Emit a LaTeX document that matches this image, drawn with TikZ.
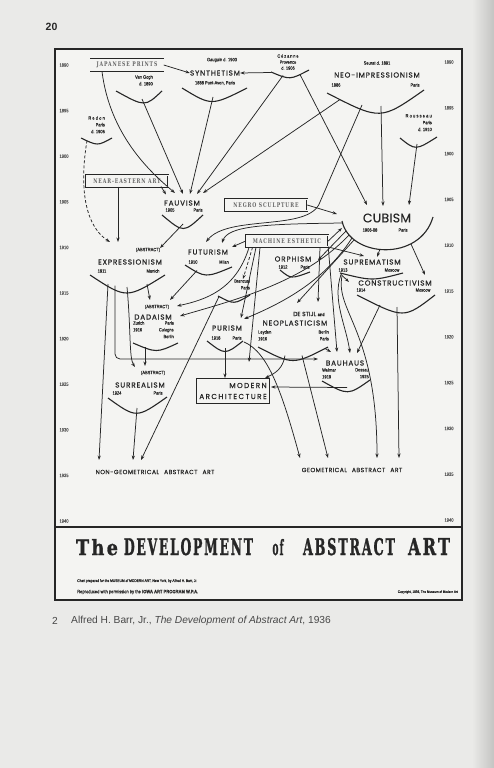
\documentclass[tikz,border=0pt]{standalone}
\usepackage{fontspec}
\usepackage{graphicx}
\usetikzlibrary{arrows.meta}

\definecolor{ink}{RGB}{38,38,38}
\definecolor{paper}{RGB}{234,234,232}
\definecolor{chartpaper}{RGB}{244,244,242}
\definecolor{pageshade}{RGB}{196,196,194}

\newfontfamily\movfont[LetterSpace=12,FakeBold=0.6]{Poppins}
\newfontfamily\smallfont[FakeStretch=0.85,FakeBold=0.2]{Liberation Sans}
\newfontfamily\boxfont[FakeStretch=0.72,LetterSpace=14]{DejaVu Serif}
\newfontfamily\titlefont[LetterSpace=14,FakeBold=1.5]{DejaVu Serif}
\newfontfamily\capfont{Liberation Sans}

\begin{document}
\begin{tikzpicture}[x=1pt,y=-1pt]

%
% Styles
%
\tikzstyle{movement} = [inner sep=0pt,text=ink,font=\movfont\fontsize{7.2}{8}\selectfont]
\tikzstyle{note}     = [inner sep=0pt,text=ink,font=\smallfont\fontsize{4.7}{6.8}\selectfont]
\tikzstyle{year}     = [inner sep=0pt,text=ink!75,font=\smallfont\fontsize{4.8}{5}\selectfont]
\tikzstyle{source}   = [draw=ink,line width=0.45pt,double=chartpaper,double distance=0.8pt,inner sep=0pt,minimum height=11.5pt,text=ink!70,font=\boxfont\bfseries\fontsize{6.4}{7}\selectfont]
\tikzstyle{archbox}  = [draw=ink,line width=1.5pt,minimum width=73pt,minimum height=25pt,inner sep=0pt,align=right,text=ink,font=\movfont\fontsize{7.2}{11}\selectfont\addfontfeature{LetterSpace=20}]
\tikzstyle{goal}     = [inner sep=0pt,text=ink,font=\movfont\fontsize{6}{7}\selectfont\addfontfeature{LetterSpace=8}]
\tikzstyle{titleword} = [inner sep=0pt,anchor=base,text=ink]
\tikzstyle{bowl}     = [line width=1.1pt,draw=ink]
\tikzstyle{edge}     = [->,>={Stealth[length=4.5pt,width=3.2pt]},line width=0.75pt,draw=ink]
\tikzstyle{edge0}    = [edge,dash pattern=on 3pt off 2pt]

% page and frame
\useasboundingbox (0,0) rectangle (494,768);
\fill[paper] (0,0) rectangle (494,768);
\shade[left color=paper,right color=pageshade] (472,0) rectangle (494,768);
\fill[chartpaper] (55,49) rectangle (462,600);
\draw[ink,line width=2pt] (55,49) rectangle (462,600);
\draw[ink,line width=1.6pt] (55,527) -- (462,527);

% years
\foreach \i in {0,...,10}{
  \pgfmathtruncatemacro\yr{1890+5*\i}
  \node[year] (yl\i) at (64,{65+45.6*\i}) {\yr};
  \node[year] (yr\i) at (449,{62+45.8*\i}) {\yr};
}

% sources
\node[source,minimum width=73pt] (jap)   at (127,65)  {JAPANESE PRINTS};
\node[source,minimum width=82pt] (near)  at (127,181) {NEAR-EASTERN ART};
\node[source,minimum width=82pt] (negro) at (266,205) {NEGRO SCULPTURE};
\node[source,minimum width=82pt] (mach)  at (287,241) {MACHINE ESTHETIC};
\node[archbox] (arch) at (233,391) {MODERN\\ARCHITECTURE};

% movements
\node[movement] (synth)  at (215,73)  {SYNTHETISM};
\node[movement] (neo)    at (377,75)  {NEO-IMPRESSIONISM};
\node[movement] (fauv)   at (182,203) {FAUVISM};
\node[movement,font=\movfont\fontsize{12.5}{13}\selectfont\addfontfeature{LetterSpace=2,FakeBold=0.3}] (cub) at (387,218) {CUBISM};
\node[note]     (exprA)  at (148,250) {(ABSTRACT)};
\node[movement] (expr)   at (130,262) {EXPRESSIONISM};
\node[movement] (fut)    at (208,252) {FUTURISM};
\node[movement] (orph)   at (293,259) {ORPHISM};
\node[movement] (supr)   at (372,262) {SUPREMATISM};
\node[movement] (cons)   at (395,283) {CONSTRUCTIVISM};
\node[note]     (dadaA)  at (157,307) {(ABSTRACT)};
\node[movement] (dada)   at (153,317) {DADAISM};
\node[movement] (pur)    at (227,328) {PURISM};
\node[movement,font=\movfont\fontsize{6}{7}\selectfont\addfontfeature{LetterSpace=0}] (stijlA) at (309,314) {DE STIJL {\smallfont\bfseries\fontsize{4.6}{5}\selectfont and}};
\node[movement] (stijl)  at (295,323) {NEOPLASTICISM};
\node[movement] (bau)    at (345,363) {BAUHAUS};
\node[note]     (surrA)  at (153,373) {(ABSTRACT)};
\node[movement] (surr)   at (140,385) {SURREALISM};
\node[goal] (nongeo) at (155,472) {NON-GEOMETRICAL\hspace{5pt}ABSTRACT\hspace{5pt}ART};
\node[goal] (geo)    at (352,470) {GEOMETRICAL\hspace{5pt}ABSTRACT\hspace{5pt}ART};

% persons, dates and places
\node[note] (gaug)   at (222,60)  {Gauguin d. 1903};
\node[note] (synthD) at (215,83)  {1888 Pont-Aven, Paris};
\node[note,align=right,anchor=north east] (vang) at (153,75) {Van Gogh\\d. 1890};
\node[note,align=center,font=\smallfont\fontsize{4.6}{6}\selectfont] (cez) at (288,62) {{\addfontfeature{LetterSpace=20}Cézanne}\\Provence\\d. 1906};
\node[note] (seur)   at (377,63)  {Seurat d. 1891};
\node[note] (neoD)   at (336,85)  {1886};
\node[note] (neoP)   at (415,85)  {Paris};
\node[note,align=right,anchor=north east] (redon) at (105,116) {{\addfontfeature{LetterSpace=25}Redon}\\Paris\\d. 1906};
\node[note,align=right,anchor=north east] (rous)  at (432,114) {{\addfontfeature{LetterSpace=25}Rousseau}\\Paris\\d. 1910};
\node[note] (fauvD)  at (170,210) {1905};
\node[note] (fauvP)  at (198,210) {Paris};
\node[note] (cubD)   at (370,230) {1906-08};
\node[note] (cubP)   at (403,230) {Paris};
\node[note] (exprD)  at (102,271) {1911};
\node[note] (exprP)  at (153,271) {Munich};
\node[note] (futD)   at (193,262) {1910};
\node[note] (futP)   at (224,262) {Milan};
\node[note] (orphD)  at (283,267) {1912};
\node[note] (orphP)  at (305,267) {Paris};
\node[note] (suprD)  at (343,270) {1913};
\node[note] (suprP)  at (392,270) {Moscow};
\node[note] (consD)  at (361,290) {1914};
\node[note] (consP)  at (423,290) {Moscow};
\node[note,align=right,anchor=north east] (branc) at (250,279) {Brancusi\\Paris};
\node[note,align=left,anchor=north west]  (dadaD) at (133,321) {Zurich\\1916};
\node[note,align=right,anchor=north east] (dadaP) at (174,321) {Paris\\Cologne\\Berlin};
\node[note] (purD)   at (216,338) {1918};
\node[note] (purP)   at (237,338) {Paris};
\node[note,align=left,anchor=north west]  (stijlD) at (258,330) {Leyden\\1916};
\node[note,align=right,anchor=north east] (stijlP) at (329,330) {Berlin\\Paris};
\node[note,align=left,anchor=north west]  (bauD)  at (322,368) {Weimar\\1919};
\node[note,align=right,anchor=north east] (bauP)  at (369,368) {Dessau\\1925};
\node[note] (surrD)  at (117,393) {1924};
\node[note] (surrP)  at (158,393) {Paris};

% bowls under the movements
\draw[bowl] (116,91)  .. controls (145,107)   .. (162,91);
\draw[bowl] (182,88)  .. controls (211.5,106) .. (247,88);
\draw[bowl] (271,72)  .. controls (290,80)    .. (309,70);
\draw[bowl] (327,93)  .. controls (380.5,120.5) .. (424,90);
\draw[bowl] (81,138)  .. controls (97.5,146)  .. (112,138);
\draw[bowl] (400,138) .. controls (415.5,150.5) .. (437,137);
\draw[bowl] (162,215) .. controls (183.5,233) .. (203,215);
\draw[bowl] (342,221) .. controls (350,258) and (420,262) .. (433,217);
\draw[bowl] (90,275)  .. controls (126.5,299) .. (165,275);
\draw[bowl] (185,265) .. controls (205.5,278) .. (232,267);
\draw[bowl] (280,270) .. controls (291,279)   .. (310,272);
\draw[bowl] (340,273) .. controls (372.5,281) .. (403,273);
\draw[bowl] (357,295) .. controls (404,319)   .. (435,295);
\draw[bowl] (218,296) .. controls (234,304.5) .. (250,295);
\draw[bowl] (133,343) .. controls (156.5,353) .. (178,343);
\draw[bowl] (207,341) .. controls (225,355)   .. (243,341);
\draw[bowl] (258,347) .. controls (293,365)   .. (328,347);
\draw[bowl] (322,381) .. controls (348,395.5) .. (370,380);
\draw[bowl] (108,398) .. controls (136.5,418.5) .. (167,397);

% where the arrows leave
\coordinate (japS)   at (102,71.5);
\coordinate (vanB)   at (142,99);
\coordinate (synthB) at (213,97);
\coordinate (cezL)   at (271,72.5);
\coordinate (cezB1)  at (283,75.5);
\coordinate (cezB2)  at (300,74.5);
\coordinate (neoB1)  at (340,99.5);
\coordinate (neoB2)  at (362,105);
\coordinate (neoK)   at (320,202);
\coordinate (neoB3)  at (381,106);
\coordinate (rousB)  at (417,144);
\coordinate (redonB) at (87,140.5);
\coordinate (nearS)  at (118,186.5);
\coordinate (nearSE) at (161,186.5);
\coordinate (fauvB)  at (183,224);
\coordinate (cubL)   at (343,223);
\coordinate (cubF1)  at (346,231);
\coordinate (cubF2)  at (349,235);
\coordinate (cubF3)  at (352,238);
\coordinate (cubF4)  at (354,240);
\coordinate (cubB)   at (380,249);
\coordinate (cubR)   at (411,244);
\coordinate (machS1) at (249,247.5);
\coordinate (machS2) at (252.5,247.5);
\coordinate (machS3) at (256,247.5);
\coordinate (machS4) at (260,247.5);
\coordinate (machS5) at (320,247.5);
\coordinate (exprB1) at (108,284);
\coordinate (exprB2) at (115,285.5);
\coordinate (exprB3) at (127,287);
\coordinate (exprB4) at (147,284);
\coordinate (futB)   at (197,270.5);
\coordinate (brancL) at (219,296.5);
\coordinate (dadaB)  at (145,347);
\coordinate (surrB)  at (137,408);
\coordinate (purB)   at (225,348);
\coordinate (purR)   at (244,342);
\coordinate (stijlB1) at (285,355.5);
\coordinate (stijlB2) at (302,355.5);
\coordinate (stijlR) at (325,348.5);
\coordinate (bauB)   at (347,387.5);
\coordinate (suprL1) at (341,274.5);
\coordinate (suprL2) at (342,276);
\coordinate (consB1) at (380,305);
\coordinate (consB2) at (397,307);

% where the arrows arrive
\coordinate (fauvIn0) at (166,194.5);
\coordinate (fauvIn1) at (175,193);
\coordinate (fauvIn2) at (183,194);
\coordinate (fauvIn3) at (190,194);
\coordinate (fauvIn4) at (197,194);
\coordinate (fauvIn5) at (203,193);
\coordinate (cubIn1)  at (367,205);
\coordinate (cubIn2)  at (383,206);
\coordinate (cubIn3)  at (409,205);
\coordinate (cubIn4)  at (337,214);
\coordinate (cubIn5)  at (342,228);
\coordinate (exprIn0) at (110,242);
\coordinate (exprIn1) at (118,242);
\coordinate (exprIn2) at (160,248);
\coordinate (futIn1)  at (206,242);
\coordinate (futIn2)  at (222,243);
\coordinate (futIn3)  at (232,247);
\coordinate (orphIn)  at (318,260);
\coordinate (suprIn1) at (364,256);
\coordinate (suprIn2) at (377,257);
\coordinate (consIn1) at (425,275);
\coordinate (consIn2) at (349,282);
\coordinate (brancIn) at (243,279);
\coordinate (dadaIn1) at (177,306);
\coordinate (dadaIn2) at (180,316);
\coordinate (dadaIn3) at (170,300);
\coordinate (dadaIn4) at (150,300);
\coordinate (purIn1)  at (241,318);
\coordinate (purIn2)  at (244,319);
\coordinate (stijlIn1) at (297,303);
\coordinate (stijlIn2) at (318,302);
\coordinate (bauIn0)  at (318,359);
\coordinate (bauIn1)  at (337,352);
\coordinate (bauIn2)  at (331,352);
\coordinate (bauIn3)  at (350,353);
\coordinate (bauIn4)  at (357,353);
\coordinate (surrIn1) at (135,367);
\coordinate (surrIn2) at (145,366);
\coordinate (archIn1) at (225,378);
\coordinate (archIn2) at (265,378);
\coordinate (archIn3) at (271,387);
\coordinate (archIn4) at (249,362);
\coordinate (nongeoIn1) at (99,460);
\coordinate (nongeoIn2) at (133,460);
\coordinate (nongeoIn3) at (141,460);
\coordinate (geoIn1)  at (300,458);
\coordinate (geoIn2)  at (328,458);
\coordinate (geoIn3)  at (377,458);
\coordinate (geoIn4)  at (399,458);

% before 1906
\draw[edge] (japS) .. controls (110,135) and (150,172) .. (fauvIn1);
\draw[edge] (jap.east) -- (synth.west);
\draw[edge] (vanB) -- (fauvIn2);
\draw[edge] (synthB) -- (fauvIn3);
\draw[edge] (cezL) -- (synth.east);
\draw[edge] (cezB1) -- (fauvIn4);
\draw[edge] (neoB1) -- (fauvIn5);
\draw[edge] (cezB2) -- (cubIn1);
\draw[edge] (neoB3) -- (cubIn2);
\draw[edge] (rousB) -- (cubIn3);
\draw[edge] (negro.east) -- (cubIn4);
\draw[edge] (nearSE) -- (fauvIn0);
\draw[edge] (nearS) -- (exprIn1);
\draw[edge0] (redonB) .. controls (78,195) and (88,228) .. (exprIn0);
\draw[edge] (fauvB) -- (exprIn2);
\draw[edge] (neoB2) -- (neoK) .. controls (310,232) and (228,214) .. (futIn1);

% out of cubism and the machine esthetic
\draw[edge] (cubL) .. controls (262,224) and (228,226) .. (futIn2);
\draw[edge] (mach.west) -- (futIn3);
\draw[edge] (mach.east) -- (cubIn5);
\draw[edge] (mach.south east) -- (suprIn1);
\draw[edge] (cubB) -- (suprIn2);
\draw[edge] (cubR) -- (consIn1);
\draw[edge] (cubF1) -- (orphIn);
\draw[edge] (cubF2) .. controls (305,282) and (235,300) .. (dadaIn2);
\draw[edge] (cubF3) .. controls (325,280) and (285,302) .. (purIn2);
\draw[edge] (cubF4) -- (stijlIn1);
\draw[edge] (machS1) .. controls (236,290) and (205,300) .. (dadaIn1);
\draw[edge0] (machS2) -- (brancIn);
\draw[edge] (machS3) -- (purIn1);
\draw[edge] (machS4) -- (archIn4);
\draw[edge] (machS5) -- (stijlIn2);
\draw[edge] (mach.south east) -- (bauIn1);

% after 1910
\draw[edge] (brancL) -- (nongeoIn3);
\draw[edge] (futB) -- (dadaIn3);
\draw[edge] (exprB4) -- (dadaIn4);
\draw[edge] (exprB1) -- (nongeoIn1);
\draw[edge,rounded corners=5pt] (exprB2) |- (bauIn0);
\draw[edge] (exprB3) .. controls (131,330) and (129,358) .. (surrIn1);
\draw[edge] (dadaB) -- (surrIn2);
\draw[edge] (surrB) -- (nongeoIn2);
\draw[edge] (purB) -- (archIn1);
\draw[edge] (purR) .. controls (268,352) and (282,392) .. (geoIn1);
\draw[edge] (stijlB1) .. controls (283,368) and (276,373) .. (archIn2);
\draw[edge] (stijlR) -- (bauIn2);
\draw[edge] (stijlB2) -- (geoIn2);
\draw[edge] (bauB) -- (archIn3);
\draw[edge] (suprL1) .. controls (332,300) and (346,325) .. (bauIn3);
\draw[edge] (suprL1) -- (consIn2);
\draw[edge] (suprL2) .. controls (335,312) and (377,330) .. (geoIn3);
\draw[edge] (consB1) -- (bauIn4);
\draw[edge] (consB2) -- (geoIn4);

% title
\node[titleword] (tThe)  at (97,555)    {\resizebox{42pt}{16pt}{\titlefont\bfseries The}};
\node[titleword] (tDev)  at (188.5,555) {\resizebox{129pt}{17pt}{\titlefont\bfseries DEVELOPMENT}};
\node[titleword] (tOf)   at (278,555)   {\resizebox{11pt}{16pt}{\titlefont\bfseries of}};
\node[titleword] (tAbs)  at (349,555)   {\resizebox{92pt}{17pt}{\titlefont\bfseries ABSTRACT}};
\node[titleword] (tArt)  at (429,555)   {\resizebox{42pt}{17pt}{\titlefont\bfseries ART}};
\node[note,anchor=west] (credit1) at (77,581) {\resizebox{120pt}{!}{Chart prepared for the MUSEUM of MODERN ART, New York, by Alfred H. Barr, Jr.}};
\node[note,anchor=west] (credit2) at (77,592) {\resizebox{121pt}{!}{Reproduced with permission by the \textbf{IOWA ART PROGRAM W.P.A.}}};
\node[note,anchor=east] (credit3) at (458,592) {\resizebox{60pt}{!}{Copyright, 1936, The Museum of Modern Art}};

% page number and caption
\node[anchor=west,inner sep=0pt,text=ink,font=\capfont\bfseries\fontsize{10.5}{12}\selectfont] (folio) at (45.5,27) {20};
\node[anchor=west,inner sep=0pt,text=ink!85,font=\capfont\fontsize{10.2}{12}\selectfont] (fignum) at (52,621) {2};
\node[anchor=west,inner sep=0pt,text=ink!85,font=\capfont\fontsize{10.2}{12}\selectfont] (caption) at (71,621) {Alfred H. Barr, Jr., \textit{The Development of Abstract Art}, 1936};

\end{tikzpicture}
\end{document}
